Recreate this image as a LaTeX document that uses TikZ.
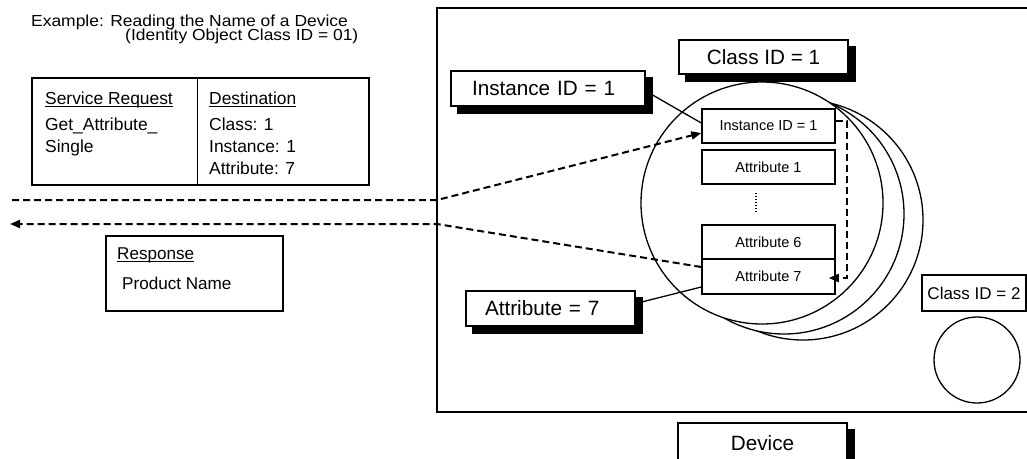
\documentclass[tikz,border=0pt]{standalone}
\usepackage{fontspec}
\setmainfont{Liberation Sans}
\newfontfamily\titlefont[FakeStretch=1.09]{Liberation Sans}
\usetikzlibrary{arrows.meta,calc}
\pgfdeclarelayer{circ}
\pgfdeclarelayer{conn}
\pgfsetlayers{circ,conn,main}
\newcommand\myul[1]{\setbox0\hbox{#1}\rlap{\rule[-2.6pt]{\wd0}{1pt}}\box0}
\begin{document}
\begin{tikzpicture}[x=1pt,y=-1pt,
 txt/.style={font=\fontsize{17.4}{20}\selectfont, inner sep=0, anchor=base west},
 ttl/.style={font=\titlefont\fontsize{16}{19}\selectfont, inner sep=0, anchor=base west},
 box/.style={draw, line width=1.5pt, inner sep=0},
 shlabel/.style={draw, fill=white, line width=1.3pt, inner sep=0, font=\fontsize{20.7}{24}\selectfont},
 shadowfill/.style={fill=black},
 attbox/.style={draw, fill=white, line width=1.5pt, inner sep=0, minimum width=133pt, font=\fontsize{14.5}{17}\selectfont},
 dline/.style={line width=2pt, dash pattern=on 7pt off 4pt},
 tip/.style={-{Triangle[length=10pt,width=8pt]}},
 circ/.style={draw, line width=1.3pt, fill=white, circle, inner sep=0}]
\useasboundingbox (0,0) rectangle (1027,458);

% title
\node[ttl] (t1) at (31,26.7) {Example: Reading the Name of a Device};
\node[ttl] (t2) at (125,40.7) {(Identity Object Class ID = 01)};

% request table
\node[box, minimum width=337pt, minimum height=107pt] (req) at (200.5,131.5) {};
\draw[line width=1.5pt] ($(req.north west)+(166,0)$) -- ($(req.south west)+(166,0)$);
\node[txt] (sr) at (45,104) {\myul{Service Request}};
\node[txt] (sr1) at (45,130) {Get\_Attribute\_};
\node[txt] (sr2) at (45,152) {Single};
\node[txt] (ds) at (209,104) {\myul{Destination}};
\node[txt] (ds1) at (209,130) {Class: 1};
\node[txt] (ds2) at (209,152.4) {Instance: 1};
\node[txt] (ds3) at (209,174.6) {Attribute: 7};

% response
\node[box, minimum width=177pt, minimum height=75pt] (resp) at (194.5,273.5) {};
\node[txt, font=\fontsize{17.1}{20}\selectfont] (rs) at (117,259) {\myul{Response}};
\node[txt, font=\fontsize{17.1}{20}\selectfont] (rs1) at (122,289) {Product Name};

% device frame
\draw[line width=1.6pt] (1040,8) -- (437,8) -- (437,412) -- (1040,412);

% object circles
\begin{pgfonlayer}{circ}
\node[circ, minimum size=240pt] (k3) at (803,220) {};
\node[circ, minimum size=240pt] (k2) at (784,214) {};
\node[circ, minimum size=242pt] (k1) at (762,203) {};
\end{pgfonlayer}

% labels with shadow
\node[shlabel, minimum width=169pt, minimum height=34pt] (cls1) at (763.5,57) {Class ID = 1};
\node[shlabel, minimum height=35pt, text width=152pt, inner xsep=21pt, align=left] (instl) at (548,88.5) {Instance ID = 1};
\node[shlabel, minimum height=35pt, text width=131pt, inner xsep=19pt, align=left] (attl) at (550.5,308.5) {Attribute = 7};
\node[shlabel, minimum width=169pt, minimum height=40pt] (dev) at (762.5,443) {Device};

% class 2
\node[box, line width=1.2pt, minimum width=104pt, minimum height=36pt, font=\fontsize{17}{20}\selectfont] (cls2) at (974,293) {Class ID = 2};
\node[circ, minimum size=86pt] (obj2) at (977,360) {};

% attribute boxes
\node[attbox, minimum height=34pt] (inst) at (768.5,126) {Instance ID = 1};
\node[attbox, minimum height=34pt] (a1) at (768.5,167) {Attribute 1};
\node[attbox, minimum height=34pt] (a6) at (768.5,242) {Attribute 6};
\node[attbox, minimum height=35pt] (a7) at (768.5,276.5) {Attribute 7};
\draw[line width=1.3pt, dash pattern=on 1.2pt off 1.8pt] (756,193) -- (756,213);

% solid leader lines and label shadows (below the labels)
\begin{pgfonlayer}{conn}
\draw[line width=1.3pt] ([yshift=-2.5pt]instl.east) -- ([yshift=3pt]inst.west);
\draw[line width=1.3pt] ([yshift=5pt]attl.east) -- ([yshift=-10.5pt]a7.west);
\foreach \n in {cls1,instl,attl,dev}
  \fill[shadowfill] ([shift={(7pt,-7pt)}]\n.north west) rectangle ([shift={(7pt,-7pt)}]\n.south east);
\end{pgfonlayer}

% dashed flows
\coordinate (qa) at (12,200);
\coordinate (qb) at (437,200);
\draw[dline, tip] (qa) -- (qb) -- ([yshift=-7pt]inst.west);
\coordinate (rb) at (437,224);
\coordinate (ra) at (10,224);
\draw[dline, tip] ([yshift=9.5pt]a7.west) -- (rb) -- (ra);
\draw[dline, tip] ([yshift=5pt]inst.east) -- ++(11,0) |- ([xshift=-7pt,yshift=-1.5pt]a7.east);
\end{tikzpicture}
\end{document}
